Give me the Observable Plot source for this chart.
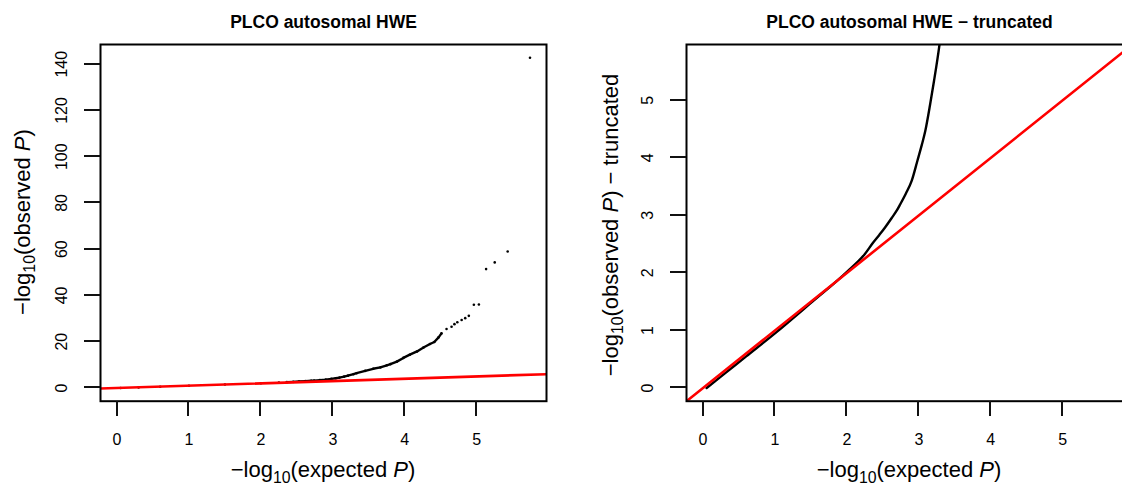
<!DOCTYPE html>
<html><head><meta charset="utf-8">
<script src="https://cdn.jsdelivr.net/npm/d3@7"></script>
<script src="https://cdn.jsdelivr.net/npm/@observablehq/plot@0.6"></script>
<style>
html,body{margin:0;padding:0;background:#fff;overflow:hidden;width:1122px;height:484px;}
#wrap{display:flex;width:1141px;align-items:flex-start;}
svg{display:block;overflow:visible}
</style></head><body><div id="wrap"></div>
<script>
// -log10(expected P) and -log10(observed P)
const expected = [0.05, 0.3, 0.6, 1.0, 1.5, 2.0, 2.25, 2.36, 2.45, 2.53, 2.62, 2.7, 2.74, 2.82, 2.9, 2.98, 3.04, 3.09, 3.157, 3.21, 3.286, 3.33, 3.45, 3.56, 3.66, 3.75, 3.8, 3.89, 3.98, 4.07, 4.17, 4.26, 4.35, 4.41, 4.47, 4.51, 4.58, 4.65, 4.69, 4.73, 4.79, 4.84, 4.89, 4.96, 5.03, 5.13, 5.25, 5.43, 5.74];
const observed = [0.0, 0.25, 0.55, 0.95, 1.48, 2.02, 2.33, 2.52, 2.66, 2.79, 2.95, 3.1, 3.19, 3.38, 3.6, 3.95, 4.22, 4.47, 4.93, 5.33, 5.96, 6.4, 7.4, 8.3, 8.9, 9.8, 10.3, 11.4, 13.0, 14.4, 15.8, 17.5, 19.0, 19.9, 21.9, 23.6, 25.5, 26.5, 27.6, 28.4, 29.4, 30.2, 31.2, 36.0, 36.1, 51.4, 54.3, 59.0, 142.8];
const xTicks = [0, 1, 2, 3, 4, 5];
const yTicksLeft = [0, 20, 40, 60, 80, 100, 120, 140];
const yTicksRight = [0, 1, 2, 3, 4, 5];
const titles = ["PLCO autosomal HWE", "PLCO autosomal HWE \u2212 truncated"];
const denseBand = [2.3, 4.51]; // expected range where points merge into a band

const font = "Liberation Sans, Arial, Helvetica, sans-serif";
const points = expected.map((e, i) => ({e, o: observed[i]}));
const xMax = d3.max(expected), xPad = 0.04 * xMax;
const xDomain = [-xPad, xMax + xPad];
const oMax = d3.max(observed);
const yDomainLeft = [-0.04 * oMax, 1.04 * oMax];
const yDomainRight = xDomain;
const refLine = xDomain; // y = x

const H = 484, MT = 44, MB = 83.3, INNER_W = 446, INNER_H = H - MT - MB;
const TICK_X = 15.3, TICK_Y = 16;

function axes(yTicks) {
  return [
    Plot.axisX(xTicks, {tickSize: 0, tickPadding: 32.6, fontSize: 16, label: null, tickFormat: d => String(d)}),
    Plot.axisY(yTicks, {tickSize: 0, tickPadding: 33.3, tickRotate: -90, fontSize: 16, label: null, tickFormat: d => String(d)}),
    Plot.frame({stroke: "black", strokeWidth: 2})
  ];
}

// outer tick marks as thin filled rectangles, placed with linear scales matching the plot's scales
function drawTicks(svg, yTicks, yDomain, ml) {
  const sx = d3.scaleLinear(xDomain, [ml, ml + INNER_W]);
  const sy = d3.scaleLinear(yDomain, [MT + INNER_H, MT]);
  const yb = MT + INNER_H;
  const g = d3.select(svg).append("g").attr("fill", "#111");
  for (const t of xTicks) {
    g.append("rect").attr("x", Math.round(sx(t)) - 1).attr("y", Math.round(yb)).attr("width", 2).attr("height", Math.round(TICK_X));
  }
  for (const t of yTicks) {
    g.append("rect").attr("x", ml - TICK_Y).attr("y", Math.round(sy(t)) - 1).attr("width", TICK_Y).attr("height", 2);
  }
}

function richText(svg, {x, y, rotate = 0, size, parts}) {
  const t = d3.select(svg).append("text")
    .attr("transform", `translate(${x},${y}) rotate(${rotate})`)
    .attr("text-anchor", "middle").attr("font-family", font)
    .attr("font-size", size).attr("fill", "black");
  let shift = 0;
  for (const p of parts) {
    const ts = t.append("tspan").text(p.t);
    const target = p.sub ? 0.27 * size : 0;
    if (target !== shift) { ts.attr("dy", target - shift); shift = target; }
    if (p.sub) ts.attr("font-size", size * 0.72);
    if (p.italic) ts.attr("font-style", "italic");
  }
}

const left = Plot.plot({
  width: 100 + INNER_W + 15, height: H,
  marginLeft: 100, marginRight: 15, marginTop: MT, marginBottom: MB,
  style: {fontFamily: font, color: "black", background: "white"},
  x: {domain: xDomain, nice: false},
  y: {domain: yDomainLeft, nice: false},
  marks: [
    Plot.line(points.filter(d => d.e >= denseBand[0] && d.e <= denseBand[1]), {x: "e", y: "o", stroke: "black", strokeWidth: 2.4}),
    Plot.dot(points, {x: "e", y: "o", r: 1.3, fill: "black"}),
    Plot.line(refLine, {x: d => d, y: d => d, stroke: "#ff0000", strokeWidth: 2.6, clip: true}),
    ...axes(yTicksLeft),
    Plot.text([titles[0]], {frameAnchor: "top", dy: -16.7, lineAnchor: "bottom", fontWeight: "bold", fontSize: 17.5, fill: "black"})
  ]
});

const right = Plot.plot({
  width: 125 + INNER_W + 9, height: H,
  marginLeft: 125, marginRight: 9, marginTop: MT, marginBottom: MB,
  style: {fontFamily: font, color: "black", background: "white"},
  x: {domain: xDomain, nice: false},
  y: {domain: yDomainRight, nice: false},
  marks: [
    Plot.line(points, {x: "e", y: "o", stroke: "black", strokeWidth: 2.4, curve: "monotone-x", clip: true}),
    Plot.line(refLine, {x: d => d, y: d => d, stroke: "#ff0000", strokeWidth: 2.6, clip: true}),
    ...axes(yTicksRight),
    Plot.text([titles[1]], {frameAnchor: "top", dy: -16.7, lineAnchor: "bottom", fontWeight: "bold", fontSize: 17.5, fill: "black"})
  ]
});

const xLab = [{t: "\u2212log"}, {t: "10", sub: true}, {t: "(expected "}, {t: "P", italic: true}, {t: ")"}];
const yLab = [{t: "\u2212log"}, {t: "10", sub: true}, {t: "(observed "}, {t: "P", italic: true}, {t: ")"}];
const yLabR = [...yLab, {t: " \u2212 truncated"}];

richText(left, {x: 323, y: 477, size: 22, parts: xLab});
richText(left, {x: 29.5, y: 222, rotate: -90, size: 22, parts: yLab});
richText(right, {x: 348, y: 477, size: 22, parts: xLab});
richText(right, {x: 56.5, y: 225, rotate: -90, size: 22, parts: yLabR});

drawTicks(left, yTicksLeft, yDomainLeft, 100);
drawTicks(right, yTicksRight, yDomainRight, 125);

document.getElementById("wrap").append(left, right);
</script></body></html>
